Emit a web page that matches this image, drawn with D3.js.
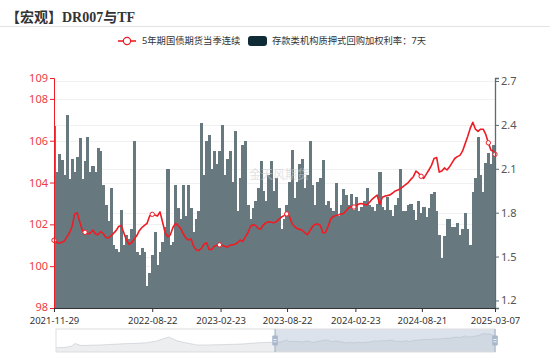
<!DOCTYPE html>
<html><head><meta charset="utf-8">
<script src="https://cdn.jsdelivr.net/npm/d3@7"></script>
<style>
html,body{margin:0;padding:0;background:#fff;}
svg{display:block;}
text{font-family:"Noto Sans","Noto Sans CJK SC",sans-serif;}
</style></head>
<body>
<svg id="chart" width="550" height="356"></svg>
<script>
const titleText = "【宏观】DR007与TF";
const seriesNames = ["5年期国债期货当季连续", "存款类机构质押式回购加权利率：7天"];
const xTickLabels = ["2021-11-29","2022-08-22","2023-02-23","2023-08-22","2024-02-23","2024-08-21","2025-03-07"];
const leftTicks = [98,100,102,104,106,108,109];
const rightTicks = [1.2,1.5,1.8,2.1,2.4,2.7];
const watermark = "金天风期货";

const dates = [
"2021-11-29","2021-12-06","2021-12-13","2021-12-20","2021-12-27",
"2022-01-03","2022-01-10","2022-01-17","2022-01-24","2022-01-31","2022-02-07","2022-02-14","2022-02-21","2022-02-28",
"2022-03-07","2022-03-14","2022-03-21","2022-03-28","2022-04-04","2022-04-11","2022-04-18","2022-04-25",
"2022-05-02","2022-05-09","2022-05-16","2022-05-23","2022-05-30","2022-06-06","2022-06-13","2022-06-20","2022-06-27",
"2022-07-04","2022-07-11","2022-07-18","2022-07-25","2022-08-01","2022-08-08","2022-08-15","2022-08-22","2022-08-29",
"2022-09-05","2022-09-12","2022-09-19","2022-09-26","2022-10-03","2022-10-10","2022-10-17","2022-10-24","2022-10-31",
"2022-11-07","2022-11-14","2022-11-21","2022-11-28","2022-12-05","2022-12-12","2022-12-19","2022-12-26",
"2023-01-02","2023-01-09","2023-01-16","2023-01-23","2023-01-30","2023-02-06","2023-02-13","2023-02-20","2023-02-27",
"2023-03-06","2023-03-13","2023-03-20","2023-03-27","2023-04-03","2023-04-10","2023-04-17","2023-04-24",
"2023-05-01","2023-05-08","2023-05-15","2023-05-22","2023-05-29","2023-06-05","2023-06-12","2023-06-19","2023-06-26",
"2023-07-03","2023-07-10","2023-07-17","2023-07-24","2023-07-31","2023-08-07","2023-08-14","2023-08-21","2023-08-28",
"2023-09-04","2023-09-11","2023-09-18","2023-09-25","2023-10-02","2023-10-09","2023-10-16","2023-10-23","2023-10-30",
"2023-11-06","2023-11-13","2023-11-20","2023-11-27","2023-12-04","2023-12-11","2023-12-18","2023-12-25",
"2024-01-01","2024-01-08","2024-01-15","2024-01-22","2024-01-29","2024-02-05","2024-02-12","2024-02-19","2024-02-26",
"2024-03-04","2024-03-11","2024-03-18","2024-03-25","2024-04-01","2024-04-08","2024-04-15","2024-04-22","2024-04-29",
"2024-05-06","2024-05-13","2024-05-20","2024-05-27","2024-06-03","2024-06-10","2024-06-17","2024-06-24",
"2024-07-01","2024-07-08","2024-07-15","2024-07-22","2024-07-29","2024-08-05","2024-08-12","2024-08-19","2024-08-26",
"2024-09-02","2024-09-09","2024-09-16","2024-09-23","2024-09-30","2024-10-07","2024-10-14","2024-10-21","2024-10-28",
"2024-11-04","2024-11-11","2024-11-18","2024-11-25","2024-12-02","2024-12-09","2024-12-16","2024-12-23","2024-12-30",
"2025-01-06","2025-01-13","2025-01-20","2025-01-27","2025-02-03","2025-02-10","2025-02-17","2025-02-24","2025-03-03","2025-03-07"
];

const futures = [
101.24,101.15,101.10,101.15,101.20,101.40,101.60,101.90,102.50,102.55,
102.10,101.70,101.62,101.55,101.57,101.73,101.55,101.50,101.65,101.57,
101.38,101.35,101.45,101.57,101.70,101.90,101.95,101.60,101.25,101.05,
101.12,101.30,101.45,101.70,101.85,101.95,102.05,102.40,102.48,102.45,
102.40,102.60,102.10,101.60,101.40,101.50,101.85,102.05,101.95,101.80,
101.55,101.35,101.25,101.30,100.95,100.78,100.75,100.85,101.05,101.12,
100.80,100.80,100.95,101.00,101.02,101.00,100.95,100.90,101.00,101.02,
101.05,101.12,101.25,101.18,101.40,101.60,101.90,101.98,101.95,101.80,
101.78,101.98,102.08,102.12,102.10,102.08,102.12,102.25,102.35,102.42,
102.50,102.40,102.05,101.90,101.80,101.76,101.72,101.60,101.50,101.70,
101.90,102.00,102.02,101.95,101.60,101.60,101.90,102.25,102.38,102.42,
102.45,102.50,102.52,102.65,102.80,102.85,102.83,102.90,102.98,103.00,
102.95,102.93,103.05,103.20,103.30,103.40,102.95,103.30,103.35,103.38,
103.41,103.50,103.60,103.64,103.72,103.80,103.90,104.00,104.15,104.28,
104.55,104.45,104.30,104.20,104.40,104.60,104.82,105.15,105.20,104.50,
104.55,104.70,104.60,104.75,104.95,105.15,105.24,105.30,105.50,105.85,
106.20,106.60,106.88,106.55,106.45,106.55,106.55,106.30,105.90,105.55,
105.50,105.35
];

const dr007 = [
2.39,2.08,2.20,2.16,2.06,2.47,2.03,2.17,2.08,2.18,
2.31,2.03,2.15,2.32,2.08,2.12,2.08,2.24,2.22,1.99,
1.85,1.74,1.97,1.58,1.55,1.53,1.82,1.58,1.65,1.62,
1.69,2.29,1.53,1.51,1.56,1.53,1.30,1.39,1.51,1.67,
1.44,1.53,1.60,1.70,2.10,1.58,1.60,1.99,1.83,1.76,
1.99,1.78,1.99,1.83,1.67,1.76,1.81,2.41,2.06,2.29,
2.33,2.10,2.22,2.13,2.22,2.40,2.06,2.17,2.22,2.01,
2.36,1.81,2.04,2.26,2.29,1.85,1.76,1.83,1.88,1.97,
2.15,1.95,1.88,2.06,2.15,1.95,2.04,1.83,1.69,1.76,
1.85,2.01,2.23,1.90,2.01,2.13,2.17,1.97,2.06,2.29,
1.99,1.85,2.01,2.04,2.16,1.85,1.88,1.83,1.81,2.00,
1.78,1.85,1.96,1.92,1.85,1.93,1.82,1.91,1.81,1.84,
1.88,1.97,1.85,1.84,1.81,1.86,2.08,1.84,1.82,1.91,
1.82,1.78,1.85,1.90,2.10,1.81,1.81,1.85,1.86,1.82,
1.75,1.88,1.80,1.84,1.77,1.83,1.93,1.94,1.81,1.65,
1.49,1.64,1.76,1.76,1.70,1.70,1.73,1.65,1.69,1.80,
1.69,1.58,1.94,2.04,2.32,2.06,1.94,2.14,2.21,2.13,
2.26,1.78
];

// older futures history shown only in the zoom slider's shadow
const histDates = ["2018-08-28","2018-10-15","2018-11-20","2018-12-10","2019-01-10","2019-03-01","2019-05-01","2019-07-01",
"2019-09-01","2019-11-01","2020-01-01","2020-02-20","2020-05-01","2020-06-15","2020-08-01","2020-10-01","2020-12-01",
"2021-03-01","2021-06-01","2021-09-01"];
const histFutures = [97.6,97.8,98.6,100.3,99.0,99.2,99.4,99.8,100.2,100.4,100.8,101.8,104.5,102.0,100.8,99.4,99.4,99.6,100.0,100.8];

const parse = d3.timeParse("%Y-%m-%d");
const svg = d3.select("#chart");
const L = 54, R = 495, T = 78, B = 308;
const RED = "#ee1c24";
const BAR = "#67797f";

const x = d3.scaleTime().domain([parse(dates[0]), parse(dates[dates.length-1])]).range([L, R]);
const yL = d3.scaleLinear().domain([98, 109]).range([B, T]);
const yR = d3.scaleLinear().domain([1.1484, 2.7205]).range([B, T]);

// title
svg.append("text").attr("x", 6).attr("y", 22)
  .style("font-family", '"Liberation Serif","Noto Sans CJK SC",serif')
  .style("font-weight", "bold").style("font-size", "14px").attr("fill", "#333").text(titleText);
svg.append("line").attr("x1", 0).attr("x2", 550).attr("y1", 26.5).attr("y2", 26.5).attr("stroke", "#e3e3e3");

// legend
const lg = svg.append("g").style("font-family", '"Noto Sans CJK SC",sans-serif').style("font-size", "9.3px");
lg.append("line").attr("x1", 118).attr("x2", 136).attr("y1", 41).attr("y2", 41).attr("stroke", RED).attr("stroke-width", 1.6);
lg.append("circle").attr("cx", 127).attr("cy", 41).attr("r", 3.6).attr("fill", "#fff").attr("stroke", RED).attr("stroke-width", 1.2);
lg.append("text").attr("x", 142).attr("y", 44.3).attr("fill", "#333").text(seriesNames[0]);
lg.append("rect").attr("x", 248).attr("y", 36).attr("width", 19).attr("height", 10).attr("rx", 3).attr("fill", "#0f2b36");
lg.append("text").attr("x", 272).attr("y", 44.3).attr("fill", "#333").text(seriesNames[1]);

// grid lines
const grid = svg.append("g");
grid.selectAll("line.gl").data(leftTicks.filter(v => v > 98 && v < 109)).join("line")
  .attr("x1", L).attr("x2", R).attr("y1", d => Math.round(yL(d)) + 0.5).attr("y2", d => Math.round(yL(d)) + 0.5)
  .attr("stroke", "#f1f1f1");
grid.selectAll("line.gr").data(rightTicks).join("line")
  .attr("x1", L).attr("x2", R).attr("y1", d => Math.round(yR(d)) + 0.5).attr("y2", d => Math.round(yR(d)) + 0.5)
  .attr("stroke", "#f1f1f1");

// clip
svg.append("defs").append("clipPath").attr("id", "plotclip")
  .append("rect").attr("x", L).attr("y", T - 5).attr("width", R - L).attr("height", B - T + 5);

// bars
const bw = x(parse(dates[1])) - x(parse(dates[0]));
svg.append("g").attr("clip-path", "url(#plotclip)").attr("shape-rendering", "crispEdges")
  .selectAll("rect").data(dates).join("rect")
  .attr("x", (d, i) => x(parse(d)) - bw / 2)
  .attr("width", bw + 0.5)
  .attr("y", (d, i) => yR(dr007[i]))
  .attr("height", (d, i) => B - yR(dr007[i]))
  .attr("fill", BAR);

// watermark
svg.append("text").attr("x", 249).attr("y", 179).style("font-family", '"Noto Sans CJK SC",sans-serif')
  .style("font-size", "12px").attr("fill", "#d0d0d0").attr("opacity", 0.6).text(watermark);

// line
const line = d3.line().x((d, i) => x(parse(dates[i]))).y(d => yL(d));
svg.append("path").datum(futures).attr("d", line).attr("fill", "none")
  .attr("stroke", RED).attr("stroke-width", 1.6).attr("stroke-linejoin", "round");
const markIdx = futures.map((d, i) => i).filter(i => i === 0 || i === futures.length - 1 || i % 26 === 12);
svg.selectAll("circle.mk").data(markIdx).join("circle")
  .attr("cx", i => x(parse(dates[i]))).attr("cy", i => yL(futures[i])).attr("r", 2.2)
  .attr("fill", "#fff").attr("stroke", RED).attr("stroke-width", 1);

// axes
const axL = svg.append("g").attr("transform", `translate(${L},0)`)
  .call(d3.axisLeft(yL).tickValues(leftTicks).tickSize(4).tickPadding(2).tickFormat(d3.format("d")));
axL.select(".domain").attr("stroke", RED);
axL.selectAll(".tick line").attr("stroke", RED);
axL.selectAll("text").attr("fill", "#ee3b45").style("font-size", "11px");
axL.selectAll(".tick").filter(d => d === 98).select("text").attr("dy", "0.2em");

const axR = svg.append("g").attr("transform", `translate(${R},0)`)
  .call(d3.axisRight(yR).tickValues(rightTicks).tickSize(4).tickPadding(2).tickFormat(d3.format(".1f")));
axR.select(".domain").attr("stroke", "#5a6b72").attr("stroke-width", 1.3);
axR.selectAll(".tick line").attr("stroke", "#5a6b72");
axR.selectAll("text").attr("fill", "#555").style("font-size", "11px");

const axB = svg.append("g").attr("transform", `translate(0,${B})`)
  .call(d3.axisBottom(x).tickValues(xTickLabels.map(parse)).tickSize(4).tickPadding(5).tickFormat(d3.timeFormat("%Y-%m-%d")));
axB.select(".domain").attr("stroke", "#333");
axB.selectAll(".tick line").attr("stroke", "#333");
axB.selectAll("text").attr("fill", "#333").style("font-size", "9.5px");

// data zoom slider
const sL = 56, sR = 495, sT = 329, sB = 352;
const allDates = histDates.concat(dates).map(parse);
const allVals = histFutures.concat(futures);
const sx = d3.scaleTime().domain([allDates[0], allDates[allDates.length - 1]]).range([sL, sR]);
const ext = d3.extent(allVals);
const pad = (ext[1] - ext[0]) * 0.3;
const sy = d3.scaleLinear().domain([ext[0] - pad, ext[1] + pad]).range([sB, sT]);
const sArea = d3.area().x((d, i) => sx(allDates[i])).y0(sB).y1(d => sy(d));
const sLine = d3.line().x((d, i) => sx(allDates[i])).y(d => sy(d));
svg.append("path").datum(allVals).attr("d", sArea).attr("fill", "rgba(47,69,84,0.09)");
svg.append("path").datum(allVals).attr("d", sLine).attr("fill", "none").attr("stroke", "rgba(47,69,84,0.3)").attr("stroke-width", 0.5);
const selStart = sx(parse(dates[0]));
svg.append("rect").attr("x", selStart).attr("y", sT).attr("width", sR - selStart).attr("height", sB - sT)
  .attr("fill", "rgba(167,183,204,0.4)");
svg.append("rect").attr("x", sL).attr("y", sT).attr("width", sR - sL).attr("height", sB - sT)
  .attr("fill", "none").attr("stroke", "#ddd");
[selStart, sR].forEach(hx => {
  svg.append("rect").attr("x", hx - 0.6).attr("y", sT).attr("width", 1.2).attr("height", sB - sT).attr("fill", "#a7b7cc");
  svg.append("rect").attr("x", hx - 2.8).attr("y", 335.5).attr("width", 5.6).attr("height", 10).attr("rx", 1).attr("fill", "#a7b7cc");
  svg.append("line").attr("x1", hx - 1.6).attr("x2", hx + 1.6).attr("y1", 339.5).attr("y2", 339.5).attr("stroke", "#fff").attr("stroke-width", 0.8);
  svg.append("line").attr("x1", hx - 1.6).attr("x2", hx + 1.6).attr("y1", 341.8).attr("y2", 341.8).attr("stroke", "#fff").attr("stroke-width", 0.8);
});
</script>
</body></html>
